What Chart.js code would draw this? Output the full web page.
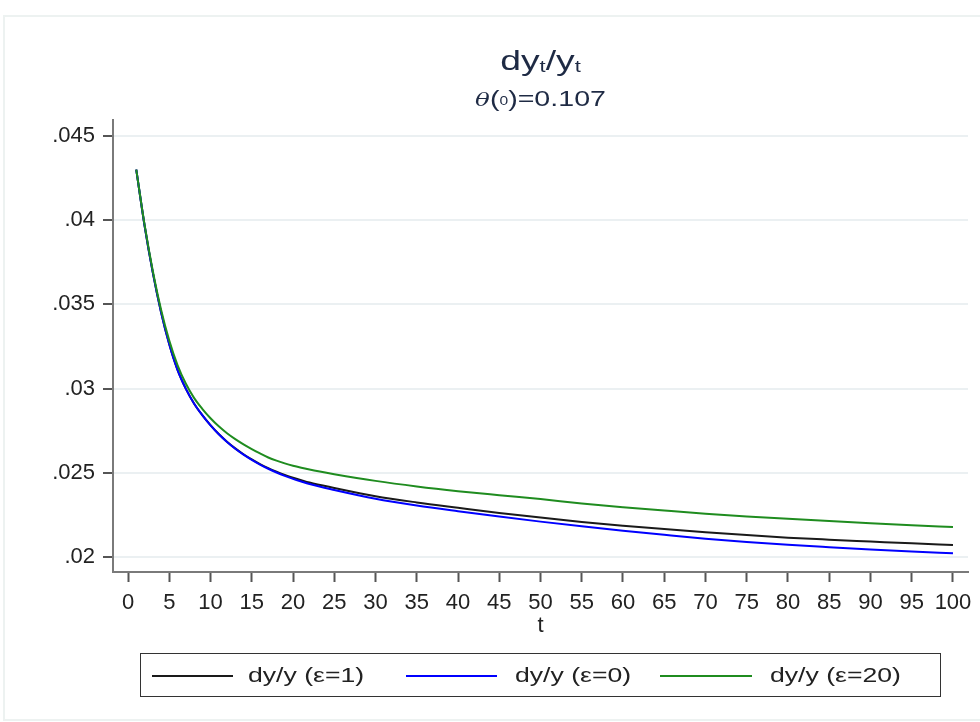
<!DOCTYPE html>
<html>
<head>
<meta charset="utf-8">
<script src="https://cdn.jsdelivr.net/npm/chart.js@4.4.0/dist/chart.umd.min.js"></script>
<style>
  body { margin: 0; background: #fff; font-family: "Liberation Sans", Arial, sans-serif; }
  #wrap { position: relative; width: 980px; height: 722px; overflow: hidden; }
  #frame { position: absolute; left: 3px; top: 15px; width: 990px; height: 702px; border: 2px solid #edf2f1; }
  #chart { position: absolute; left: 0; top: 0; }
  .title { position: absolute; left: 113px; width: 855px; text-align: center; color: #1e2a44; }
  #t1 { top: 46px; font-size: 27px; transform: scaleX(1.38); }
  #t1 sub { font-size: 16px; vertical-align: -2px; }
  #t2 { top: 86px; font-size: 22px; transform: scaleX(1.3); }
  #t2 i { font-family: "DejaVu Serif", serif; font-size: 19px; }
  #t2 small { font-size: 12px; vertical-align: 1px; }
  #legend { position: absolute; left: 140px; top: 653px; width: 799px; height: 42px; border: 1.5px solid #333; }
  .item { position: absolute; top: 0; height: 42px; line-height: 42px; font-size: 20px; color: #222; transform: scaleX(1.33); transform-origin: left center; }
  .swatch { position: absolute; top: 21px; height: 2px; }
</style>
</head>
<body>
<div id="wrap">
  <div id="frame"></div>
  <canvas id="chart" width="980" height="722"></canvas>
  <div class="title" id="t1">dy<sub>t</sub>/y<sub>t</sub></div>
  <div class="title" id="t2"><i>θ</i>(<small>0</small>)=0.107</div>
  <div id="legend">
    <div class="swatch" style="left:11px;width:81px;background:#1a1a1a"></div>
    <div class="item" style="left:107px">dy/y (ε=1)</div>
    <div class="swatch" style="left:265px;width:91px;background:#0000ff"></div>
    <div class="item" style="left:374px">dy/y (ε=0)</div>
    <div class="swatch" style="left:519px;width:92px;background:#1f8c1f"></div>
    <div class="item" style="left:629px">dy/y (ε=20)</div>
  </div>
</div>
<script>
// values
const tValues = [1, 2, 3, 4, 5, 6, 7, 8, 9, 10, 11, 12, 13, 14, 15, 16, 17, 18, 19, 20, 21, 22, 25, 30, 35, 40, 45, 50, 55, 60, 65, 70, 75, 80, 85, 90, 95, 100];
const eps1 = [0.04300, 0.03970, 0.03690, 0.03455, 0.03263, 0.03111, 0.03000, 0.02912, 0.02843, 0.02783, 0.02730, 0.02685, 0.02645, 0.02610, 0.02580, 0.02552, 0.02528, 0.02507, 0.02488, 0.02471, 0.02456, 0.02442, 0.02410, 0.02361, 0.02324, 0.02292, 0.02261, 0.02234, 0.02208, 0.02186, 0.02166, 0.02147, 0.02130, 0.02115, 0.02103, 0.02092, 0.02081, 0.02071];
const eps0 = [0.04300, 0.03970, 0.03690, 0.03455, 0.03263, 0.03111, 0.03000, 0.02912, 0.02842, 0.02782, 0.02729, 0.02683, 0.02643, 0.02608, 0.02577, 0.02549, 0.02524, 0.02502, 0.02482, 0.02464, 0.02448, 0.02433, 0.02398, 0.02346, 0.02306, 0.02272, 0.02240, 0.02210, 0.02182, 0.02156, 0.02132, 0.02109, 0.02089, 0.02072, 0.02058, 0.02045, 0.02033, 0.02022];
const eps20 = [0.04300, 0.03975, 0.03700, 0.03470, 0.03285, 0.03140, 0.03030, 0.02945, 0.02880, 0.02824, 0.02776, 0.02735, 0.02700, 0.02669, 0.02641, 0.02615, 0.02591, 0.02572, 0.02556, 0.02542, 0.02530, 0.02519, 0.02492, 0.02452, 0.02419, 0.02391, 0.02367, 0.02344, 0.02318, 0.02296, 0.02276, 0.02257, 0.02241, 0.02227, 0.02214, 0.02201, 0.02189, 0.02178];
const xTicks = [0, 5, 10, 15, 20, 25, 30, 35, 40, 45, 50, 55, 60, 65, 70, 75, 80, 85, 90, 95, 100];
const yTicks = [0.02, 0.025, 0.03, 0.035, 0.04, 0.045];
const yTickLabels = [".02", ".025", ".03", ".035", ".04", ".045"];

const toPoints = (ys) => ys.map((y, i) => ({ x: tValues[i], y: y }));

const tickFont = { family: "'Liberation Sans', Arial, sans-serif", size: 22 };

const line = (label, ys, color, order) => ({
  label: label,
  data: toPoints(ys),
  borderColor: color,
  borderWidth: 2,
  pointRadius: 0,
  cubicInterpolationMode: "monotone",
  order: order,
});

new Chart(document.getElementById("chart"), {
  type: "line",
  data: {
    datasets: [
      line("dy/y (ε=1)", eps1, "#1a1a1a", 3),
      line("dy/y (ε=0)", eps0, "#0000ff", 2),
      line("dy/y (ε=20)", eps20, "#1f8c1f", 1),
    ],
  },
  options: {
    responsive: false,
    animation: false,
    layout: { padding: { left: 0, top: 120, right: 12, bottom: 83 } },
    plugins: { legend: { display: false }, tooltip: { enabled: false } },
    scales: {
      x: {
        type: "linear",
        min: -1.82,
        max: 101.82,
        afterFit: (scale) => { scale.height = 67; },
        afterBuildTicks: (scale) => { scale.ticks = xTicks.map((v) => ({ value: v })); },
        ticks: { autoSkip: false, maxRotation: 0, padding: 8, color: "#222", font: tickFont },
        grid: { drawOnChartArea: false, tickLength: 10, tickColor: "#555", tickWidth: 2 },
        border: { color: "#7a7a7a", width: 2 },
        title: { display: true, text: "t", color: "#222", font: tickFont, padding: 0 },
      },
      y: {
        min: 0.019109,
        max: 0.04595,
        afterFit: (scale) => { scale.width = 113; },
        afterBuildTicks: (scale) => { scale.ticks = yTicks.map((v) => ({ value: v })); },
        ticks: {
          padding: 8,
          color: "#222",
          font: tickFont,
          callback: (v) => yTickLabels[yTicks.findIndex((y) => Math.abs(y - v) < 1e-9)],
        },
        grid: { color: "#ebf0f2", lineWidth: 2, tickLength: 10, tickColor: "#555", tickWidth: 2 },
        border: { color: "#7a7a7a", width: 2 },
      },
    },
  },
});
</script>
</body>
</html>
